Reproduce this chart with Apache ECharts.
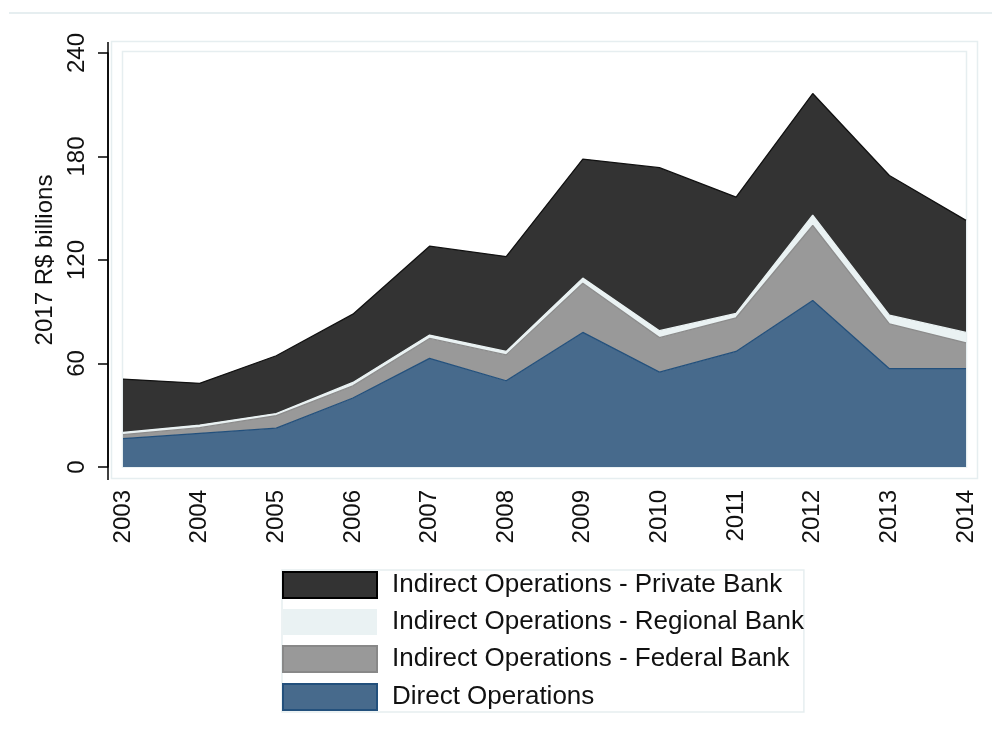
<!DOCTYPE html>
<html>
<head>
<meta charset="utf-8">
<script src="https://cdn.jsdelivr.net/npm/echarts@6/dist/echarts.min.js"></script>
<style>
  html, body { margin: 0; padding: 0; background: #ffffff; }
  #chart { width: 992px; height: 729px; }
</style>
</head>
<body>
<div id="chart"></div>
<script>
// ---- data ----
const years = ['2003','2004','2005','2006','2007','2008','2009','2010','2011','2012','2013','2014'];
const directOps   = [16.5, 19.5, 22.5, 40, 63, 50, 78, 55, 67, 96.5, 57, 57];
const federalBank = [2.3, 3.3, 7.3, 7, 11.5, 15, 28.5, 20, 19.5, 43.5, 26, 15];
const regionalBank = [1.2, 1.5, 1.2, 2, 2, 2, 3, 4, 2.5, 6, 5, 6];
const privateBank = [31, 24.2, 33.5, 39.6, 51.5, 55, 69, 94.5, 67.5, 70.5, 81, 65];
const yTicks = [0, 60, 120, 180, 240];

const names = {
  direct: 'Direct Operations',
  federal: 'Indirect Operations - Federal Bank',
  regional: 'Indirect Operations - Regional Bank',
  priv: 'Indirect Operations - Private Bank'
};
const colors = {
  direct:   { fill: '#476a8c', line: '#23507c' },
  federal:  { fill: '#999999', line: '#8c8c8c' },
  regional: { fill: '#eaf2f3', line: '#eaf2f3' },
  priv:     { fill: '#333333', line: '#111111' }
};

const FONT = 'Liberation Sans, Arial, sans-serif';
const frameColor = '#e6eef0';

function areaSeries(key, values) {
  return {
    name: names[key],
    type: 'line',
    stack: 'total',
    data: values,
    symbol: 'none',
    smooth: false,
    lineStyle: { color: colors[key].line, width: 1.3 },
    itemStyle: { color: colors[key].fill },
    areaStyle: { color: colors[key].fill, opacity: 1 },
    emphasis: { disabled: true }
  };
}

const chart = echarts.init(document.getElementById('chart'), null, { renderer: 'canvas' });
chart.setOption({
  animation: false,
  backgroundColor: '#ffffff',
  textStyle: { fontFamily: FONT },
  graphic: [
    { type: 'line', z: -10, shape: { x1: 9, y1: 13, x2: 992, y2: 13 }, style: { stroke: frameColor, lineWidth: 2 } },
    { type: 'rect', z: -10, shape: { x: 111.5, y: 41.5, width: 866, height: 437 }, style: { fill: 'none', stroke: frameColor, lineWidth: 1.5 } },
    { type: 'rect', z: -10, shape: { x: 122.5, y: 51.5, width: 844, height: 415.5 }, style: { fill: 'none', stroke: frameColor, lineWidth: 1.5 } },
    { type: 'line', z: 10, shape: { x1: 108, y1: 42, x2: 108, y2: 480 }, style: { stroke: '#000000', lineWidth: 1.5 } }
  ],
  grid: { left: 123, right: 26, top: 53, bottom: 262, containLabel: false },
  xAxis: {
    type: 'category',
    data: years,
    boundaryGap: false,
    axisLine: { show: false },
    axisTick: { show: false },
    splitLine: { show: false },
    axisLabel: { rotate: 90, margin: 23, fontSize: 24, color: '#111111', fontFamily: FONT, interval: 0 }
  },
  yAxis: {
    type: 'value',
    min: yTicks[0],
    max: yTicks[yTicks.length - 1],
    interval: 60,
    offset: 15,
    name: '2017 R$ billions',
    nameLocation: 'middle',
    nameRotate: 90,
    nameGap: 45,
    nameTextStyle: { fontSize: 24, color: '#111111', fontFamily: FONT },
    axisLine: { show: true, lineStyle: { color: '#000000', width: 1.5 } },
    axisTick: { show: true, length: 10, lineStyle: { color: '#000000', width: 1.5 } },
    splitLine: { show: false },
    axisLabel: { rotate: 90, margin: 19, fontSize: 24, color: '#111111', fontFamily: FONT }
  },
  legend: {
    orient: 'vertical',
    left: 282,
    top: 570,
    padding: [1, 0, 1, 0],
    itemWidth: 94,
    itemHeight: 26,
    itemGap: 10,
    borderColor: frameColor,
    borderWidth: 1.5,
    icon: 'rect',
    textStyle: { fontSize: 26, color: '#111111', fontFamily: FONT, lineHeight: 26, padding: [0, 0, 0, 10] },
    data: [
      { name: names.priv, itemStyle: { color: colors.priv.fill, borderColor: '#000000', borderWidth: 2 } },
      { name: names.regional, itemStyle: { color: colors.regional.fill, borderColor: colors.regional.fill, borderWidth: 0 } },
      { name: names.federal, itemStyle: { color: colors.federal.fill, borderColor: '#888888', borderWidth: 2 } },
      { name: names.direct, itemStyle: { color: colors.direct.fill, borderColor: '#23507c', borderWidth: 2 } }
    ]
  },
  series: [
    areaSeries('direct', directOps),
    areaSeries('federal', federalBank),
    areaSeries('regional', regionalBank),
    areaSeries('priv', privateBank)
  ]
});
</script>
</body>
</html>
